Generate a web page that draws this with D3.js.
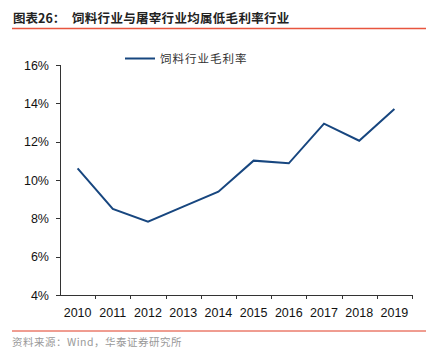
<!DOCTYPE html>
<html><head><meta charset="utf-8">
<script src="https://cdn.jsdelivr.net/npm/d3@7"></script>
<style>
html,body{margin:0;padding:0;background:#fff;}
svg{display:block;}
</style>
</head><body>
<svg id="chart" width="433" height="349"></svg>
<script>
const years = ["2010","2011","2012","2013","2014","2015","2016","2017","2018","2019"];
const margin = [10.61, 8.49, 7.82, 8.61, 9.39, 11.01, 10.87, 12.94, 12.05, 13.71];
const yTicks = [4, 6, 8, 10, 12, 14, 16];
const titleLead = "图表26：";
const titleText = "饲料行业与屠宰行业均属低毛利率行业";
const seriesName = "饲料行业毛利率";
const sourceText = "资料来源：Wind，华泰证券研究所";

const svg = d3.select("#chart");
const L = 60, R = 412, T = 65, B = 295;
const x = d3.scaleBand().domain(years).range([L, R]);
const y = d3.scaleLinear().domain([4, 16]).range([B, T]);
const latin = "'Liberation Sans', Arial, sans-serif";
const cjk = "'Noto Sans CJK SC', sans-serif";

// Title
const t = svg.append("text").attr("x", 13).attr("y", 23)
  .attr("font-family", cjk).attr("font-weight", "bold").attr("font-size", 12.5).attr("fill", "#222");
t.append("tspan").text(titleLead);
t.append("tspan").attr("x", 72).attr("letter-spacing", 0.3).text(titleText);
svg.append("line").attr("x1", 12).attr("x2", 426).attr("y1", 28.5).attr("y2", 28.5)
  .attr("stroke", "#e8553e").attr("stroke-width", 1.5);

// Y axis
svg.append("line").attr("x1", L + 0.5).attr("x2", L + 0.5).attr("y1", T).attr("y2", B)
  .attr("stroke", "#333").attr("stroke-width", 1);
yTicks.forEach(v => {
  svg.append("line").attr("x1", L - 4).attr("x2", L).attr("y1", Math.round(y(v)) + 0.5).attr("y2", Math.round(y(v)) + 0.5)
    .attr("stroke", "#333");
  svg.append("text").attr("x", 49).attr("y", y(v) + 4.5).attr("text-anchor", "end")
    .attr("font-family", latin).attr("font-size", 12.5).attr("fill", "#111").text(v + "%");
});

// X axis
svg.append("line").attr("x1", L).attr("x2", R).attr("y1", B + 0.5).attr("y2", B + 0.5)
  .attr("stroke", "#333");
years.forEach((yr, i) => {
  const xe = x(yr) + x.bandwidth();
  svg.append("line").attr("x1", Math.round(xe) + 0.5).attr("x2", Math.round(xe) + 0.5)
    .attr("y1", B).attr("y2", B + 4).attr("stroke", "#333");
  svg.append("text").attr("x", x(yr) + x.bandwidth() / 2).attr("y", 317)
    .attr("text-anchor", "middle").attr("font-family", latin).attr("font-size", 12.5)
    .attr("fill", "#111").text(yr);
});

// Line
const line = d3.line().x((d, i) => x(years[i]) + x.bandwidth() / 2).y(d => y(d));
svg.append("path").datum(margin).attr("d", line).attr("fill", "none")
  .attr("stroke", "#17467f").attr("stroke-width", 2).attr("stroke-linejoin", "miter");

// Legend
svg.append("line").attr("x1", 125).attr("x2", 155).attr("y1", 58.5).attr("y2", 58.5)
  .attr("stroke", "#17467f").attr("stroke-width", 2);
svg.append("text").attr("x", 160).attr("y", 62.5).attr("font-family", cjk)
  .attr("font-size", 11.5).attr("letter-spacing", 1).attr("fill", "#333").text(seriesName);

// Footer
svg.append("line").attr("x1", 12).attr("x2", 426).attr("y1", 331).attr("y2", 331)
  .attr("stroke", "#e03a22").attr("stroke-width", 1);
svg.append("text").attr("x", 12).attr("y", 345.5).attr("font-family", cjk)
  .attr("font-size", 10.5).attr("letter-spacing", 0.5).attr("fill", "#999").text(sourceText);
</script>
</body></html>
